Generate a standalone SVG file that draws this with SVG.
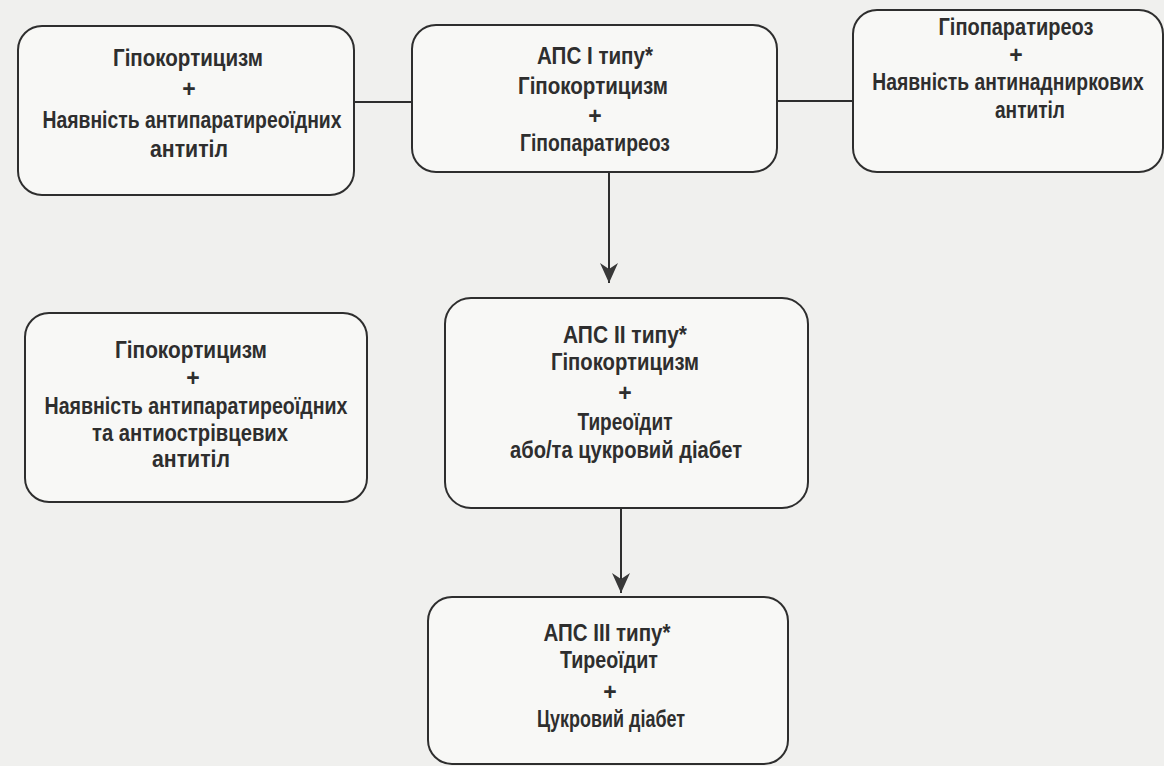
<svg xmlns="http://www.w3.org/2000/svg" width="1164" height="766" viewBox="0 0 1164 766">
<style>
.bx{fill:#f8f8f6;stroke:#2e2e2e;stroke-width:2}
.t{font-family:"Liberation Sans",Arial,sans-serif;font-weight:bold;font-size:23px;fill:#2e2e2e;text-anchor:middle}
.ln{stroke:#2e2e2e;stroke-width:2;fill:none}
</style>
<defs>
<marker id="ah" markerWidth="20" markerHeight="18" refX="20" refY="9" orient="auto" markerUnits="userSpaceOnUse" viewBox="0 0 20 18">
<path d="M0,0 L20,9 L0,18 L6,9 Z" fill="#383838"/>
</marker>
</defs>
<rect width="1164" height="766" fill="#f0f0ee"/>
<g id="connectors">
<line class="ln" x1="353" y1="102" x2="412" y2="102"/>
<line class="ln" x1="777" y1="101" x2="853" y2="101"/>
<line class="ln" x1="609" y1="172" x2="609" y2="283" marker-end="url(#ah)"/>
<line class="ln" x1="621" y1="508" x2="621" y2="593" marker-end="url(#ah)"/>
</g>
<g id="n1">
<rect class="bx" x="18" y="26" width="336" height="169" rx="24"/>
<text class="t" x="188" y="66" textLength="150" lengthAdjust="spacingAndGlyphs">Гіпокортицизм</text>
<text class="t" x="189" y="97">+</text>
<text class="t" x="192" y="128" textLength="299" lengthAdjust="spacingAndGlyphs">Наявність антипаратиреоїдних</text>
<text class="t" x="189" y="157" textLength="78" lengthAdjust="spacingAndGlyphs">антитіл</text>
</g>
<g id="n2">
<rect class="bx" x="412" y="25" width="365" height="147" rx="24"/>
<text class="t" x="595" y="64" textLength="116" lengthAdjust="spacingAndGlyphs">АПС І типу*</text>
<text class="t" x="593" y="94" textLength="150" lengthAdjust="spacingAndGlyphs">Гіпокортицизм</text>
<text class="t" x="595" y="124">+</text>
<text class="t" x="595" y="151" textLength="150" lengthAdjust="spacingAndGlyphs">Гіпопаратиреоз</text>
</g>
<g id="n3">
<rect class="bx" x="853" y="10" width="310" height="162" rx="24"/>
<text class="t" x="1016" y="35" textLength="155" lengthAdjust="spacingAndGlyphs">Гіпопаратиреоз</text>
<text class="t" x="1016" y="63">+</text>
<text class="t" transform="matrix(0.84 0 0 1 1008 90)" x="0" y="0">Наявність антинадниркових</text>
<text class="t" x="1030" y="118" textLength="70" lengthAdjust="spacingAndGlyphs">антитіл</text>
</g>
<g id="n4">
<rect class="bx" x="25" y="313" width="342" height="189" rx="24"/>
<text class="t" x="191" y="358" textLength="152" lengthAdjust="spacingAndGlyphs">Гіпокортицизм</text>
<text class="t" x="193" y="386">+</text>
<text class="t" x="196" y="414" textLength="303" lengthAdjust="spacingAndGlyphs">Наявність антипаратиреоїдних</text>
<text class="t" x="190" y="441" textLength="196" lengthAdjust="spacingAndGlyphs">та антиострівцевих</text>
<text class="t" x="191" y="467" textLength="78" lengthAdjust="spacingAndGlyphs">антитіл</text>
</g>
<g id="n5">
<rect class="bx" x="445" y="298" width="363" height="210" rx="26"/>
<text class="t" x="625" y="343" textLength="124" lengthAdjust="spacingAndGlyphs">АПС ІІ типу*</text>
<text class="t" x="625" y="370" textLength="148" lengthAdjust="spacingAndGlyphs">Гіпокортицизм</text>
<text class="t" x="625" y="401">+</text>
<text class="t" x="625" y="430" textLength="95" lengthAdjust="spacingAndGlyphs">Тиреоїдит</text>
<text class="t" x="626" y="458" textLength="232" lengthAdjust="spacingAndGlyphs">або/та цукровий діабет</text>
</g>
<g id="n6">
<rect class="bx" x="428" y="597" width="360" height="167" rx="24"/>
<text class="t" x="607" y="641" textLength="127" lengthAdjust="spacingAndGlyphs">АПС ІІІ типу*</text>
<text class="t" x="609" y="668" textLength="98" lengthAdjust="spacingAndGlyphs">Тиреоїдит</text>
<text class="t" x="610" y="700">+</text>
<text class="t" x="611" y="727" textLength="148" lengthAdjust="spacingAndGlyphs">Цукровий діабет</text>
</g>
</svg>
